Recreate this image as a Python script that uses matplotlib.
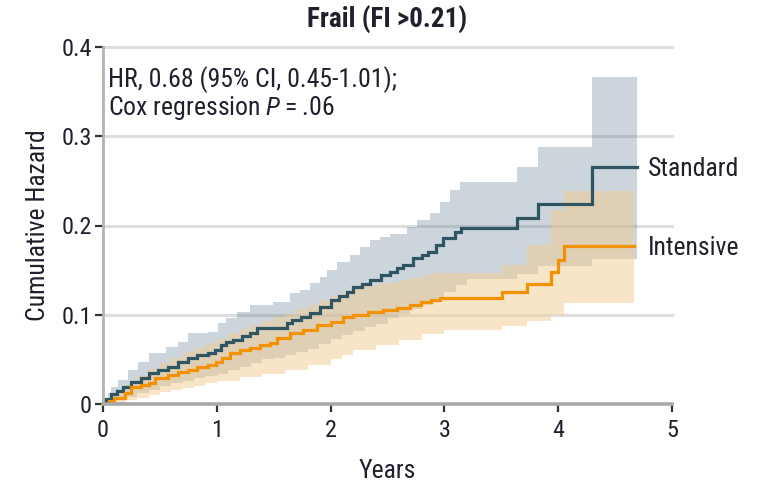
import matplotlib
matplotlib.use("Agg")
import matplotlib.pyplot as plt
from matplotlib import font_manager
import numpy as np

# ---------------- data ----------------
std_t = [0, 0.03, 0.07, 0.12, 0.18, 0.25, 0.33, 0.40, 0.48, 0.57, 0.66, 0.75, 0.83, 0.92, 0.98,
         1.04, 1.08, 1.14, 1.22, 1.29, 1.35, 1.62, 1.66, 1.74, 1.82, 1.91, 2.00, 2.07, 2.14, 2.20,
         2.28, 2.35, 2.44, 2.52, 2.58, 2.64, 2.72, 2.80, 2.86, 2.93, 2.99, 3.09, 3.15, 3.64, 3.82,
         4.30, 4.69]
std_v = [0, 0.006, 0.011, 0.015, 0.019, 0.025, 0.029, 0.035, 0.038, 0.042, 0.047, 0.051, 0.055, 0.057, 0.061,
         0.066, 0.069, 0.072, 0.076, 0.080, 0.085, 0.091, 0.094, 0.098, 0.102, 0.109, 0.117, 0.121, 0.126, 0.131,
         0.135, 0.139, 0.144, 0.148, 0.152, 0.156, 0.164, 0.167, 0.170, 0.178, 0.186, 0.193, 0.197, 0.208, 0.224,
         0.266, 0.266]

int_t = [0, 0.05, 0.10, 0.19, 0.25, 0.33, 0.40, 0.46, 0.57, 0.66, 0.75, 0.83, 0.92, 0.99, 1.05,
         1.12, 1.20, 1.29, 1.38, 1.47, 1.53, 1.64, 1.76, 1.88, 2.00, 2.11, 2.20, 2.33, 2.46, 2.58,
         2.70, 2.79, 2.88, 2.96, 3.51, 3.73, 3.94, 4.00, 4.05, 4.67]
int_v = [0, 0.003, 0.007, 0.012, 0.019, 0.021, 0.023, 0.029, 0.033, 0.036, 0.038, 0.042, 0.044, 0.047, 0.051,
         0.057, 0.060, 0.063, 0.066, 0.068, 0.074, 0.080, 0.083, 0.089, 0.092, 0.097, 0.100, 0.103, 0.105, 0.108,
         0.111, 0.114, 0.116, 0.119, 0.125, 0.135, 0.148, 0.161, 0.177, 0.177]

std_hi_t = [0, 0.04, 0.07, 0.13, 0.22, 0.31, 0.40, 0.55, 0.66, 0.75, 0.92, 1.01, 1.08, 1.18, 1.29,
            1.49, 1.64, 1.73, 1.82, 1.91, 1.97, 2.06, 2.17, 2.26, 2.35, 2.43, 2.52, 2.67, 2.76, 2.87,
            2.96, 3.05, 3.14, 3.64, 3.82, 4.30, 4.69]
std_hi_v = [0, 0.012, 0.019, 0.027, 0.038, 0.047, 0.057, 0.064, 0.070, 0.080, 0.081, 0.091, 0.096, 0.103, 0.111,
            0.114, 0.124, 0.128, 0.136, 0.142, 0.150, 0.159, 0.167, 0.176, 0.184, 0.187, 0.191, 0.198, 0.206, 0.214,
            0.226, 0.240, 0.249, 0.266, 0.288, 0.366, 0.366]

std_lo_t = [0, 0.05, 0.10, 0.20, 0.30, 0.40, 0.50, 0.60, 0.70, 0.80, 0.90, 1.00, 1.10, 1.20, 1.30,
            1.40, 1.50, 1.60, 1.70, 1.80, 1.90, 2.00, 2.10, 2.20, 2.30, 2.40, 2.50, 2.60, 2.70, 2.80,
            2.90, 3.00, 3.10, 3.20, 3.64, 3.82, 4.30, 4.69]
std_lo_v = [0, 0.002, 0.004, 0.008, 0.012, 0.016, 0.020, 0.023, 0.026, 0.029, 0.031, 0.034, 0.038, 0.042, 0.046,
            0.050, 0.052, 0.055, 0.058, 0.062, 0.067, 0.073, 0.077, 0.082, 0.086, 0.090, 0.096, 0.101, 0.106, 0.111,
            0.118, 0.126, 0.133, 0.140, 0.146, 0.155, 0.162, 0.162]

int_hi_t = [0, 0.10, 0.20, 0.30, 0.40, 0.50, 0.60, 0.70, 0.80, 0.90, 1.00, 1.10, 1.20, 1.30, 1.40,
            1.50, 1.60, 1.70, 1.80, 1.90, 2.00, 2.10, 2.20, 2.30, 2.40, 2.50, 2.60, 2.70, 2.80, 2.90,
            3.51, 3.73, 3.94, 4.05, 4.67]
int_hi_v = [0, 0.012, 0.022, 0.031, 0.039, 0.046, 0.052, 0.058, 0.063, 0.068, 0.073, 0.079, 0.084, 0.088, 0.093,
            0.097, 0.101, 0.106, 0.111, 0.116, 0.121, 0.126, 0.129, 0.132, 0.134, 0.136, 0.139, 0.141, 0.144, 0.147,
            0.156, 0.178, 0.217, 0.239, 0.239]

int_lo_t = [0, 0.10, 0.20, 0.30, 0.40, 0.50, 0.60, 0.70, 0.80, 0.90, 1.00, 1.20, 1.40, 1.60, 1.80,
            2.00, 2.10, 2.20, 2.40, 2.60, 2.80, 3.00, 3.51, 3.73, 3.94, 4.05, 4.67]
int_lo_v = [0, 0.001, 0.004, 0.007, 0.010, 0.013, 0.016, 0.018, 0.020, 0.023, 0.026, 0.030, 0.034, 0.038, 0.044,
            0.050, 0.055, 0.060, 0.066, 0.072, 0.078, 0.083, 0.087, 0.093, 0.100, 0.113, 0.113]

x_ticks = [0, 1, 2, 3, 4, 5]
x_ticklabels = ["0", "1", "2", "3", "4", "5"]
y_ticks = [0, 0.1, 0.2, 0.3, 0.4]
y_ticklabels = ["0", "0.1", "0.2", "0.3", "0.4"]

title = "Frail (FI >0.21)"
xlabel = "Years"
ylabel = "Cumulative Hazard"
series_labels = ["Standard", "Intensive"]
annot_line1 = "HR, 0.68 (95% CI, 0.45-1.01);"
annot_line2 = "Cox regression $P$\u2009=\u2009.06"

# ---------------- style ----------------
avail = {f.name for f in font_manager.fontManager.ttflist}
FONT = "DejaVu Sans"
for cand in ["Liberation Sans Narrow", "DejaVu Sans Condensed", "Roboto Condensed", "Lato"]:
    if cand in avail:
        FONT = cand
        break
plt.rcParams["font.family"] = [FONT, "DejaVu Sans"]
plt.rcParams["mathtext.fontset"] = "custom"
plt.rcParams["mathtext.rm"] = FONT
plt.rcParams["mathtext.it"] = FONT + ":italic"

TXT = "#1f1f2e"
STD = "#2f5462"
INT = "#f39200"
FS = 18.5
FS_TICK = 17.5

fig = plt.figure(figsize=(7.61, 4.84), dpi=100)
ax = fig.add_axes([103 / 761, 80 / 484, 569 / 761, 357 / 484])
ax.set_xlim(0, 5)
ax.set_ylim(0, 0.4)

# gridlines
for y in y_ticks[1:]:
    ax.axhline(y, color="#dedede", lw=2.2, zorder=0.5, clip_on=False)


def stepfun(t, v, grid):
    t = np.asarray(t)
    v = np.asarray(v)
    idx = np.searchsorted(t, grid, side="right") - 1
    idx = np.clip(idx, 0, len(v) - 1)
    return v[idx]


# confidence bands
g_std = np.array(sorted(set(std_hi_t) | set(std_lo_t)))
ax.fill_between(g_std, stepfun(std_lo_t, std_lo_v, g_std), stepfun(std_hi_t, std_hi_v, g_std),
                step="post", color="#58768a", alpha=0.30, lw=0, zorder=1)
g_int = np.array(sorted(set(int_hi_t) | set(int_lo_t)))
ax.fill_between(g_int, stepfun(int_lo_t, int_lo_v, g_int), stepfun(int_hi_t, int_hi_v, g_int),
                step="post", color="#f3cd91", alpha=0.5, lw=0, zorder=1.1)

# curves
ax.plot(std_t, std_v, drawstyle="steps-post", color=STD, lw=2.3, zorder=3, solid_joinstyle="miter")
ax.plot(int_t, int_v, drawstyle="steps-post", color=INT, lw=2.3, zorder=3.1, solid_joinstyle="miter")

ax.text(4.79, std_v[-1] - 0.003, series_labels[0], color=TXT, fontsize=FS, va="center", ha="left",
        clip_on=False)
ax.text(4.79, int_v[-1] - 0.002, series_labels[1], color=TXT, fontsize=FS, va="center", ha="left",
        clip_on=False)

# annotation
ax.text(0.045, 0.363, annot_line1, color=TXT, fontsize=FS, va="center", ha="left")
ax.text(0.045, 0.332, annot_line2, color=TXT, fontsize=FS, va="center", ha="left")

# spines / ticks
for s in ["top", "right"]:
    ax.spines[s].set_visible(False)
ax.spines["left"].set_color("#b3b3b3")
ax.spines["left"].set_linewidth(2.0)
ax.spines["bottom"].set_color("#a8a8a8")
ax.spines["bottom"].set_linewidth(2.6)
ax.spines["bottom"].set_zorder(4)
ax.set_xticks(x_ticks)
ax.set_xticklabels(x_ticklabels)
ax.set_yticks(y_ticks)
ax.set_yticklabels(y_ticklabels)
ax.tick_params(axis="both", colors="#333333", labelcolor=TXT, labelsize=FS_TICK, length=6, width=1.6)
ax.tick_params(axis="x", pad=5)
ax.tick_params(axis="y", pad=2)

ax.set_xlabel(xlabel, color=TXT, fontsize=FS, labelpad=12)
ax.set_ylabel(ylabel, color=TXT, fontsize=FS, labelpad=8)
fig.text(387.5 / 761, 1 - 20 / 484, title, color=TXT, fontsize=19.5, fontweight="bold",
         ha="center", va="center")

fig.savefig("out.png", dpi=100)
